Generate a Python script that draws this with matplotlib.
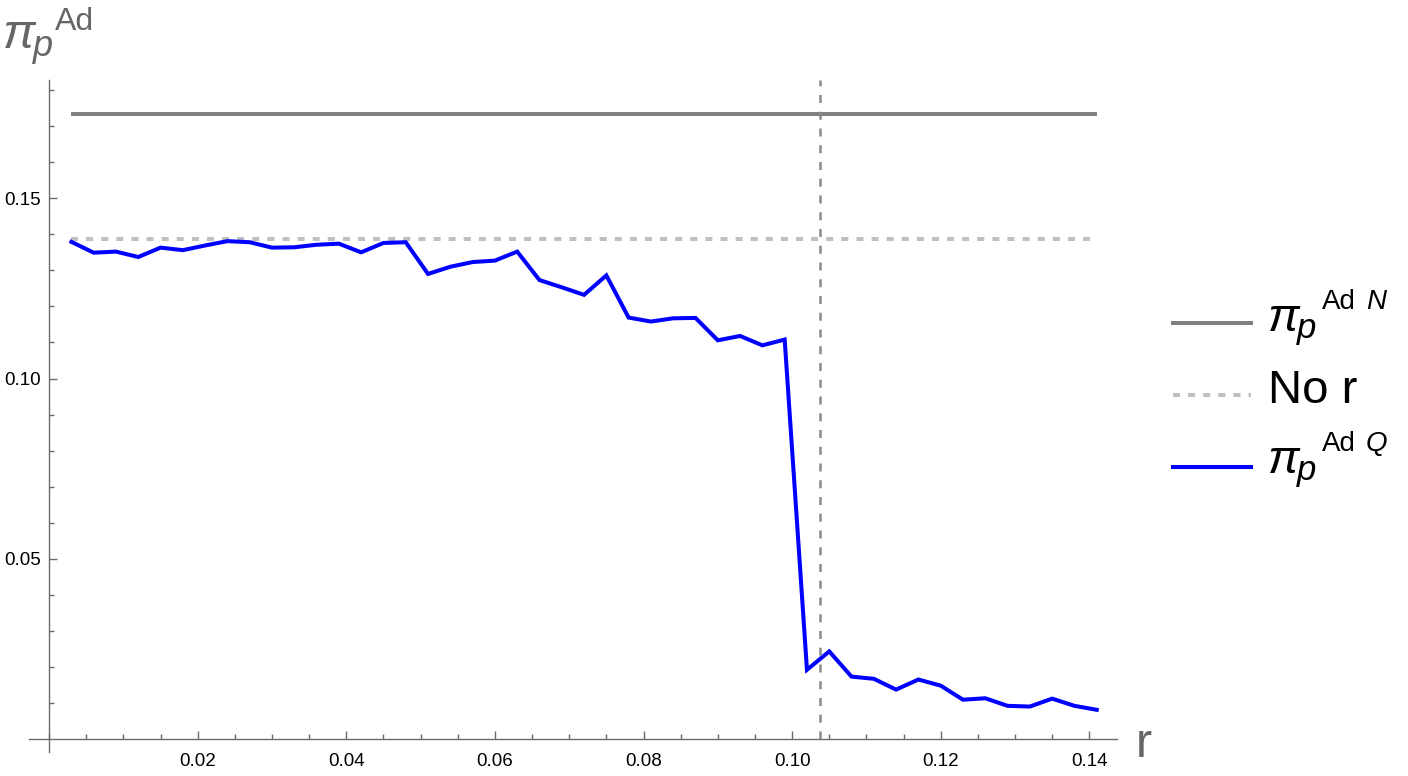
import matplotlib
matplotlib.use("Agg")
import matplotlib.pyplot as plt
from matplotlib.lines import Line2D

plt.rcParams['font.family'] = ['Liberation Sans', 'DejaVu Sans']

# ---------------- data ----------------
r = [0.003, 0.006, 0.009, 0.012, 0.015, 0.018, 0.021, 0.024, 0.027, 0.030,
     0.033, 0.036, 0.039, 0.042, 0.045, 0.048, 0.051, 0.054, 0.057, 0.060,
     0.063, 0.066, 0.069, 0.072, 0.075, 0.078, 0.081, 0.084, 0.087, 0.090,
     0.093, 0.096, 0.099, 0.102, 0.105, 0.108, 0.111, 0.114, 0.117, 0.120,
     0.123, 0.126, 0.129, 0.132, 0.135, 0.138, 0.141]
pi_Q = [0.1379, 0.1349, 0.1352, 0.1337, 0.1363, 0.1356, 0.1369, 0.1381, 0.1378, 0.1363,
        0.1364, 0.1371, 0.1374, 0.1350, 0.1376, 0.1378, 0.1290, 0.1310, 0.1323, 0.1327,
        0.1352, 0.1273, 0.1253, 0.1232, 0.1286, 0.1169, 0.1158, 0.1167, 0.1168, 0.1106,
        0.1118, 0.1092, 0.1108, 0.0192, 0.0243, 0.0173, 0.0167, 0.0137, 0.0165, 0.0148,
        0.0109, 0.0113, 0.0092, 0.0090, 0.0112, 0.0092, 0.0081]
pi_N = 0.1733
no_r = 0.1388
r_star = 0.1037

x_major = [0.02, 0.04, 0.06, 0.08, 0.10, 0.12, 0.14]
x_labels = ["0.02", "0.04", "0.06", "0.08", "0.10", "0.12", "0.14"]
y_major = [0.05, 0.10, 0.15]
y_labels = ["0.05", "0.10", "0.15"]
sym_base = 'π'
sym_sub = 'p'
sup_word = 'Ad'
legend_tags = ['N', None, 'Q']
legend_plain = [None, 'No r', None]
xlabel = 'r'

# ---------------- styles ----------------
W, H = 1408, 776
C_N = '#808080'
C_NOR = '#c0c0c0'
C_Q = '#0000ff'
C_V = '#8a8a8a'
C_AX = '#6b6b6b'
C_LBL = '#666666'
LW = 2.9
dash_nor = (0, (1.75, 2.0))
dash_v = (0, (3.2, 3.5))

fig = plt.figure(figsize=(W / 100, H / 100), dpi=100)
ax_l, ax_r, ax_t, ax_b = 29, 1116.7, 80, 752
ax = fig.add_axes([ax_l / W, 1 - ax_b / H, (ax_r - ax_l) / W, (ax_b - ax_t) / H])
x0px, xscale = 49.1, 7430.0
y0px, yscale = 739.0, 3605.0
ax.set_xlim((ax_l - x0px) / xscale, (ax_r - x0px) / xscale)
ax.set_ylim((y0px - ax_b) / yscale, (y0px - ax_t) / yscale)

# lines
ax.hlines(pi_N, r[0], r[-1], colors=C_N, linewidth=LW)
ax.hlines(no_r, r[0], r[-1], colors=C_NOR, linewidth=LW, linestyles=[dash_nor])
ax.plot(r, pi_Q, color=C_Q, linewidth=LW, solid_joinstyle='miter')
ax.vlines(r_star, 0, ax.get_ylim()[1], colors=C_V, linewidth=1.8, linestyles=[dash_v])

# axes styling (Mathematica-like)
for s in ['top', 'right']:
    ax.spines[s].set_visible(False)
ax.spines['left'].set_position(('data', 0))
ax.spines['bottom'].set_position(('data', 0))
for s in ['left', 'bottom']:
    ax.spines[s].set_color(C_AX)
    ax.spines[s].set_linewidth(1.0)
ax.patch.set_visible(False)

ax.set_xticks(x_major)
ax.set_xticklabels(x_labels)
ax.set_xticks([k * 0.005 for k in range(0, 29) if (k % 4) != 0] + [0.0], minor=True)
ax.set_yticks(y_major)
ax.set_yticklabels(y_labels)
ax.set_yticks([k * 0.01 for k in range(1, 19) if (k % 5) != 0], minor=True)
ax.tick_params(which='both', direction='in', colors=C_AX, labelcolor='black',
               labelsize=13.5, width=1.0)
ax.tick_params(which='major', length=5.5)
ax.tick_params(which='minor', length=3.5)
ax.tick_params(axis='x', which='major', pad=10)
ax.tick_params(axis='y', which='major', pad=6)


def ftext(x, y, s, **kw):
    """Text placed in figure pixel coordinates (origin top-left)."""
    return fig.text(x / W, 1 - y / H, s, ha='left', va='baseline', **kw)


def pi_label(x, yb, color, sup_size, sup_dx, sup_dy, tag=None, tag_dx=0,
             sub_dx=29, sub_dy=6.7, base_size=34, sub_size=25):
    ftext(x, yb, sym_base, fontsize=base_size, style='italic', color=color)
    ftext(x + sub_dx, yb + sub_dy, sym_sub, fontsize=sub_size, style='italic', color=color)
    ftext(x + sup_dx, yb - sup_dy, sup_word, fontsize=sup_size, color=color)
    if tag is not None:
        ftext(x + tag_dx, yb - sup_dy, tag, fontsize=sup_size, style='italic', color=color)


# axis labels
pi_label(3, 48.3, C_LBL, sup_size=23, sup_dx=52, sup_dy=18.3,
         sub_dx=30, sub_dy=7.4, base_size=35, sub_size=26)
ftext(1136, 757, xlabel, fontsize=35, color=C_LBL)

# legend (manual)
leg_x0, leg_x1, txt_x = 1173, 1251, 1268
rows_line_y = [323.3, 395.3, 467.3]
rows_text_y = [331, 403, 473]
styles = [dict(color=C_N, linestyle='-'), dict(color=C_NOR, linestyle=dash_nor),
          dict(color=C_Q, linestyle='-')]
for ly, ty, tag, plain, st in zip(rows_line_y, rows_text_y, legend_tags, legend_plain, styles):
    fig.add_artist(Line2D([leg_x0 / W, leg_x1 / W], [1 - ly / H, 1 - ly / H],
                          transform=fig.transFigure, linewidth=LW, **st))
    if plain is not None:
        ftext(txt_x, ty, plain, fontsize=34, color='black')
    else:
        pi_label(txt_x, ty, 'black', sup_size=20, sup_dx=54, sup_dy=22,
                 tag=tag, tag_dx=98)

fig.savefig('out.png', dpi=100)
